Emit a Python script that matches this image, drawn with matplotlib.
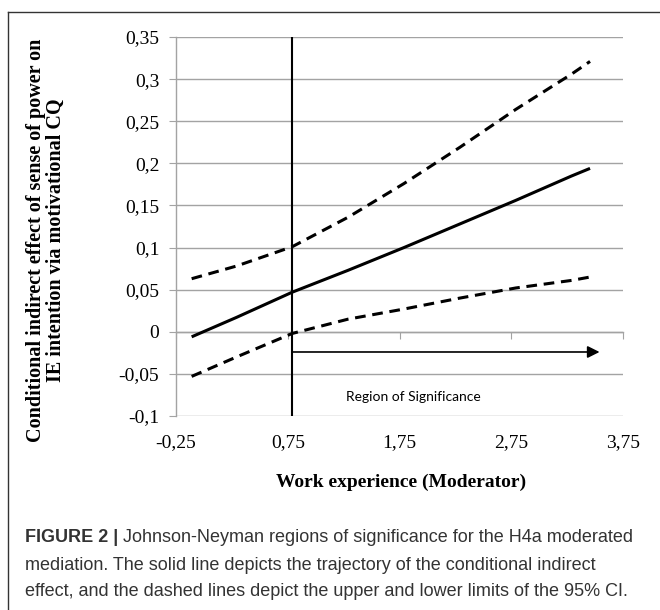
import numpy as np
import matplotlib.pyplot as plt
from matplotlib.lines import Line2D

# moderator values and the conditional indirect effect with its 95% CI
work_exp = [-0.11, 0.29, 0.79, 1.29, 1.79, 2.29, 2.79, 3.29, 3.455]
effect = [-0.006, 0.017, 0.047, 0.073, 0.100, 0.128, 0.156, 0.185, 0.194]
upper_ci = [0.063, 0.078, 0.101, 0.136, 0.176, 0.219, 0.264, 0.306, 0.321]
lower_ci = [-0.053, -0.030, -0.002, 0.015, 0.027, 0.040, 0.052, 0.061, 0.065]

jn_point = 0.79
arrow_end = 3.54
arrow_y = -0.024

yticks = [0.35, 0.3, 0.25, 0.2, 0.15, 0.1, 0.05, 0, -0.05, -0.1]
ytick_labels = ['0,35', '0,3', '0,25', '0,2', '0,15', '0,1', '0,05', '0', '-0,05', '-0,1']
xticks = [-0.25, 0.75, 1.75, 2.75, 3.75]
xtick_labels = ['-0,25', '0,75', '1,75', '2,75', '3,75']

serif = 'Liberation Serif'
grid_col = '#a3a3a3'

W, H = 660, 610
fig = plt.figure(figsize=(W / 100, H / 100), dpi=100)
ax = fig.add_axes([176 / W, 1 - 416 / H, 447 / W, 379 / H])

ax.set_xlim(-0.25, 3.75)
ax.set_ylim(-0.1, 0.35)

# excel style: gridlines, grey y axis, x axis crossing at zero
for yv in yticks:
    ax.axhline(yv, color=grid_col, lw=1.0, zorder=1)
for s in ['top', 'right']:
    ax.spines[s].set_visible(False)
ax.spines['left'].set_color(grid_col)
ax.spines['left'].set_linewidth(1.0)
ax.spines['bottom'].set_position(('data', 0))
ax.spines['bottom'].set_color(grid_col)
ax.spines['bottom'].set_linewidth(1.0)

ax.set_yticks(yticks)
ax.set_yticklabels(ytick_labels, fontfamily=serif, fontsize=14)
ax.tick_params(axis='y', length=5, color=grid_col, pad=7)

ax.set_xticks(xticks)
ax.tick_params(axis='x', length=5, color=grid_col, labelbottom=False)
sec = ax.secondary_xaxis('bottom')
sec.set_xticks(xticks)
sec.set_xticklabels(xtick_labels, fontfamily=serif, fontsize=14)
sec.tick_params(length=0, pad=13)
sec.spines['bottom'].set_visible(False)

ax.plot(work_exp, effect, color='black', lw=2.2, solid_capstyle='butt', zorder=3)
ax.plot(work_exp, upper_ci, color='black', lw=2.2, dashes=(3.5, 2.2), zorder=3)
ax.plot(work_exp, lower_ci, color='black', lw=2.2, dashes=(3.5, 2.2), zorder=3)

ax.axvline(jn_point, color='black', lw=1.5, zorder=4)
ax.annotate('', xy=(arrow_end, arrow_y), xytext=(jn_point, arrow_y),
            arrowprops=dict(arrowstyle='-|>', color='black', lw=1.2,
                            mutation_scale=18, shrinkA=0, shrinkB=0))
ax.text(1.87, -0.078, 'Region of Significance', fontfamily='Lato', fontsize=10,
        ha='center', va='center')

fig.text(401 / W, 1 - 482 / H, 'Work experience (Moderator)', fontfamily=serif,
         fontweight='bold', fontsize=14, ha='center', va='center')
fig.text(46 / W, 1 - 240 / H,
         'Conditional indirect effect of sense of power on\nIE intention via motivational CQ',
         fontfamily=serif, fontweight='bold', fontsize=14.5, rotation=90,
         ha='center', va='center', multialignment='center', linespacing=0.95)

# outer frame (left and top edges only, as in the reference crop)
fig.add_artist(Line2D([8 / W, 8 / W], [0, 1 - 12 / H], transform=fig.transFigure,
                      color='#333333', lw=1.0))
fig.add_artist(Line2D([8 / W, 1], [1 - 12 / H, 1 - 12 / H], transform=fig.transFigure,
                      color='#333333', lw=1.0))

# caption
cap_col = '#333333'
cap_lines = [
    ' Johnson-Neyman regions of significance for the H4a moderated',
    'mediation. The solid line depicts the trajectory of the conditional indirect',
    'effect, and the dashed lines depict the upper and lower limits of the 95% CI.',
]
cap_y = [538, 565, 592]
fig.canvas.draw()
r = fig.canvas.get_renderer()
t0 = fig.text(25 / W, 1 - cap_y[0] / H, 'FIGURE 2 |', fontfamily='Liberation Sans',
              fontweight='bold', fontsize=13, color=cap_col, va='center')
bb = t0.get_window_extent(renderer=r)
fig.text(bb.x1 / W, 1 - cap_y[0] / H, cap_lines[0], fontfamily='Liberation Sans',
         fontsize=13, color=cap_col, va='center')
for txt, yy in zip(cap_lines[1:], cap_y[1:]):
    fig.text(25 / W, 1 - yy / H, txt, fontfamily='Liberation Sans', fontsize=13,
             color=cap_col, va='center')

fig.savefig('out.png', dpi=100)
